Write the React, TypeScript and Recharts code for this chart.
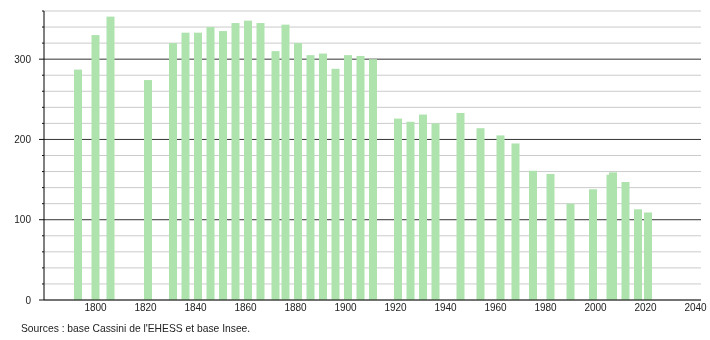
import React from "react";
import { Bar, BarChart, CartesianGrid, XAxis, YAxis } from "recharts";

// recensements (années) et population
const years = [
  1793, 1800, 1806, 1821, 1831, 1836, 1841, 1846, 1851, 1856, 1861, 1866,
  1872, 1876, 1881, 1886, 1891, 1896, 1901, 1906, 1911, 1921, 1926, 1931,
  1936, 1946, 1954, 1962, 1968, 1975, 1982, 1990, 1999, 2006, 2007, 2012,
  2017, 2021,
];
const population = [
  287, 330, 353, 274, 320, 333, 333, 340, 335, 345, 348, 345, 310, 343, 320,
  305, 307, 288, 305, 304, 300, 226, 222, 231, 220, 233, 214, 205, 195, 161,
  157, 120, 138, 156, 159, 147, 113, 109,
];
const xTicks = [1800, 1820, 1840, 1860, 1880, 1900, 1920, 1940, 1960, 1980, 2000, 2020, 2040];
const yTicks = [0, 20, 40, 60, 80, 100, 120, 140, 160, 180, 200, 220, 240, 260, 280, 300, 320, 340, 360];
const sourceNote = "Sources : base Cassini de l'EHESS et base Insee.";

const FONT = "'Liberation Sans', Arial, sans-serif";
const BAR_FILL = "#aee3ae";
const BAR_W = 8;

const data = years.map((year, i) => ({ year, pop: population[i] }));

function BarShape(props: any) {
  const { x, y, width, height } = props;
  if (height == null || height <= 0) return null;
  const cx = x + width / 2;
  return <rect x={cx - BAR_W / 2} y={y} width={BAR_W} height={height} fill={BAR_FILL} />;
}

function XTick(props: any) {
  const { x, y, payload } = props;
  return (
    <text x={x} y={y} dy="0.71em" textAnchor="middle" fontSize={10} fill="#222" fontFamily={FONT}>
      {payload.value}
    </text>
  );
}

function YTick(props: any) {
  const { x, y, payload } = props;
  const major = payload.value % 100 === 0;
  return (
    <g>
      <line x1={x - (major ? 5 : 2)} x2={x} y1={y} y2={y} stroke="#111" />
      {major && (
        <text x={x - 13} y={y} dy="0.355em" textAnchor="end" fontSize={10} fill="#222" fontFamily={FONT}>
          {payload.value}
        </text>
      )}
    </g>
  );
}

// grid line: every 100 is dark, the rest light grey
function GridLine(props: any) {
  const { x1, x2, y1, y2, index } = props;
  const v = yTicks[index];
  const major = v != null && v % 100 === 0 && v !== 0;
  return <line x1={x1} x2={x2} y1={y1} y2={y2} stroke={major ? "#333" : "#cbcbcb"} />;
}

export default function App() {
  return (
    <div style={{ position: "fixed", left: 8, top: 8, width: 702, height: 332 }}>
      <BarChart
        width={702}
        height={332}
        data={data}
        margin={{ top: 3, right: 9, left: 0, bottom: 20 }}
      >
        <CartesianGrid vertical={false} horizontal={(p: any) => <GridLine {...p} />} />
        <XAxis
          dataKey="year"
          type="number"
          domain={[1779.4, 2042.2]}
          ticks={xTicks}
          interval={0}
          tickLine={false}
          tickSize={0}
          tickMargin={4}
          height={20}
          axisLine={{ stroke: "#000" }}
          tick={<XTick />}
        />
        <YAxis
          type="number"
          domain={[0, 360]}
          ticks={yTicks}
          interval={0}
          width={36}
          tickLine={false}
          tickSize={0}
          tickMargin={0}
          axisLine={{ stroke: "#000" }}
          tick={<YTick />}
        />
        <Bar dataKey="pop" shape={<BarShape />} isAnimationActive={false} />
      </BarChart>
      <div
        style={{
          position: "absolute",
          left: 13,
          top: 315,
          fontSize: 10.3,
          lineHeight: "12px",
          color: "#222",
          fontFamily: FONT,
          whiteSpace: "nowrap",
        }}
      >
        {sourceNote}
      </div>
    </div>
  );
}
